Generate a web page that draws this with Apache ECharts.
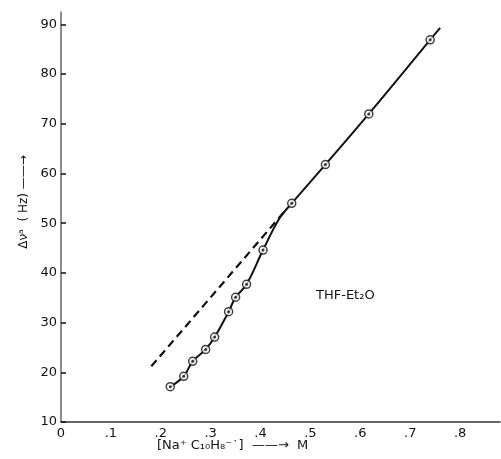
<!DOCTYPE html>
<html>
<head>
<meta charset="utf-8">
<script src="https://cdn.jsdelivr.net/npm/echarts@6/dist/echarts.min.js"></script>
<style>html,body{margin:0;padding:0;background:#fff}#c{width:501px;height:459px}</style>
</head>
<body>
<div id="c"></div>
<script>
// Measured points: concentration (M) and shift (Hz)
var concM = [0.219, 0.246, 0.264, 0.290, 0.308, 0.336, 0.350, 0.372, 0.405, 0.4625, 0.530, 0.617, 0.740];
var shiftHz = [17.1, 19.2, 22.2, 24.6, 27.1, 32.2, 35.1, 37.7, 44.6, 54.0, 61.8, 72.0, 86.9];
// Solid curve through the points, extended past the last point
var curveX = [0.219, 0.246, 0.264, 0.290, 0.308, 0.336, 0.350, 0.372, 0.405, 0.438, 0.4625, 0.530, 0.617, 0.740, 0.760];
var curveY = [17.1, 19.2, 22.2, 24.6, 27.1, 32.2, 35.1, 37.7, 44.6, 51.0, 54.0, 61.8, 72.0, 86.9, 89.3];
// Dashed extrapolation line
var dashX = [0.181, 0.450];
var dashY = [21.2, 52.6];
var xTicks = [0, 0.1, 0.2, 0.3, 0.4, 0.5, 0.6, 0.7, 0.8];
var yTicks = [10, 20, 30, 40, 50, 60, 70, 80, 90];

function zip(a, b) { return a.map(function (v, i) { return [v, b[i]]; }); }

var chart = echarts.init(document.getElementById('c'));
var font = 'DejaVu Sans';
chart.setOption({
  animation: false,
  backgroundColor: '#fff',
  grid: { left: 61, right: 1, top: 12, bottom: 37 },
  xAxis: {
    type: 'value', min: 0, max: 0.88, interval: 0.1,
    axisLine: { lineStyle: { color: '#333', width: 1.5 } },
    axisTick: { show: false },
    splitLine: { show: false },
    axisLabel: {
      color: '#111', fontFamily: font, fontSize: 13, margin: 5,
      showMaxLabel: false,
      formatter: function (v) {
        var r = Math.round(v * 10) / 10;
        if (xTicks.indexOf(r) < 0 || Math.abs(v - r) > 1e-6) return '';
        return r === 0 ? '0' : ('.' + Math.round(r * 10));
      }
    }
  },
  yAxis: {
    type: 'value', min: 10, max: 92.5, interval: 10,
    axisLine: { lineStyle: { color: '#666', width: 1.5 } },
    axisTick: { show: true, inside: true, length: 5, lineStyle: { color: '#111', width: 1.5 } },
    splitLine: { show: false },
    axisLabel: {
      color: '#111', fontFamily: font, fontSize: 13, margin: 4,
      showMaxLabel: false,
      formatter: function (v) { return yTicks.indexOf(v) >= 0 ? String(v) : ''; }
    },
    name: 'Δνᵃ  ( Hz) ——→',
    nameLocation: 'middle', nameRotate: 90, nameGap: 30,
    nameTextStyle: { color: '#111', fontFamily: font, fontSize: 12, padding: [0, 0, 0, 30] }
  },
  title: [
    { text: '[Na⁺ C₁₀H₈⁻˙]  ——→  M', left: 152, top: 434,
      textStyle: { color: '#111', fontFamily: font, fontSize: 13, fontWeight: 'normal' } }
  ],
  graphic: [
    { type: 'text', left: 316, top: 289,
      style: { text: 'THF-Et₂O', fill: '#111', font: '13px "DejaVu Sans"' } }
  ],
  series: [
    { type: 'line', data: zip(dashX, dashY), symbol: 'none',
      lineStyle: { color: '#111', width: 2.2, type: [8, 5] } },
    { type: 'line', data: zip(curveX, curveY), symbol: 'none', smooth: 0.4,
      lineStyle: { color: '#111', width: 2 } },
    { type: 'scatter', data: zip(concM, shiftHz), symbol: 'circle', symbolSize: 8, z: 3,
      itemStyle: { color: '#fff', borderColor: '#111', borderWidth: 1.5 } },
    { type: 'scatter', data: zip(concM, shiftHz), symbol: 'circle', symbolSize: 3, z: 4,
      itemStyle: { color: '#111' } }
  ]
});
</script>
</body>
</html>
